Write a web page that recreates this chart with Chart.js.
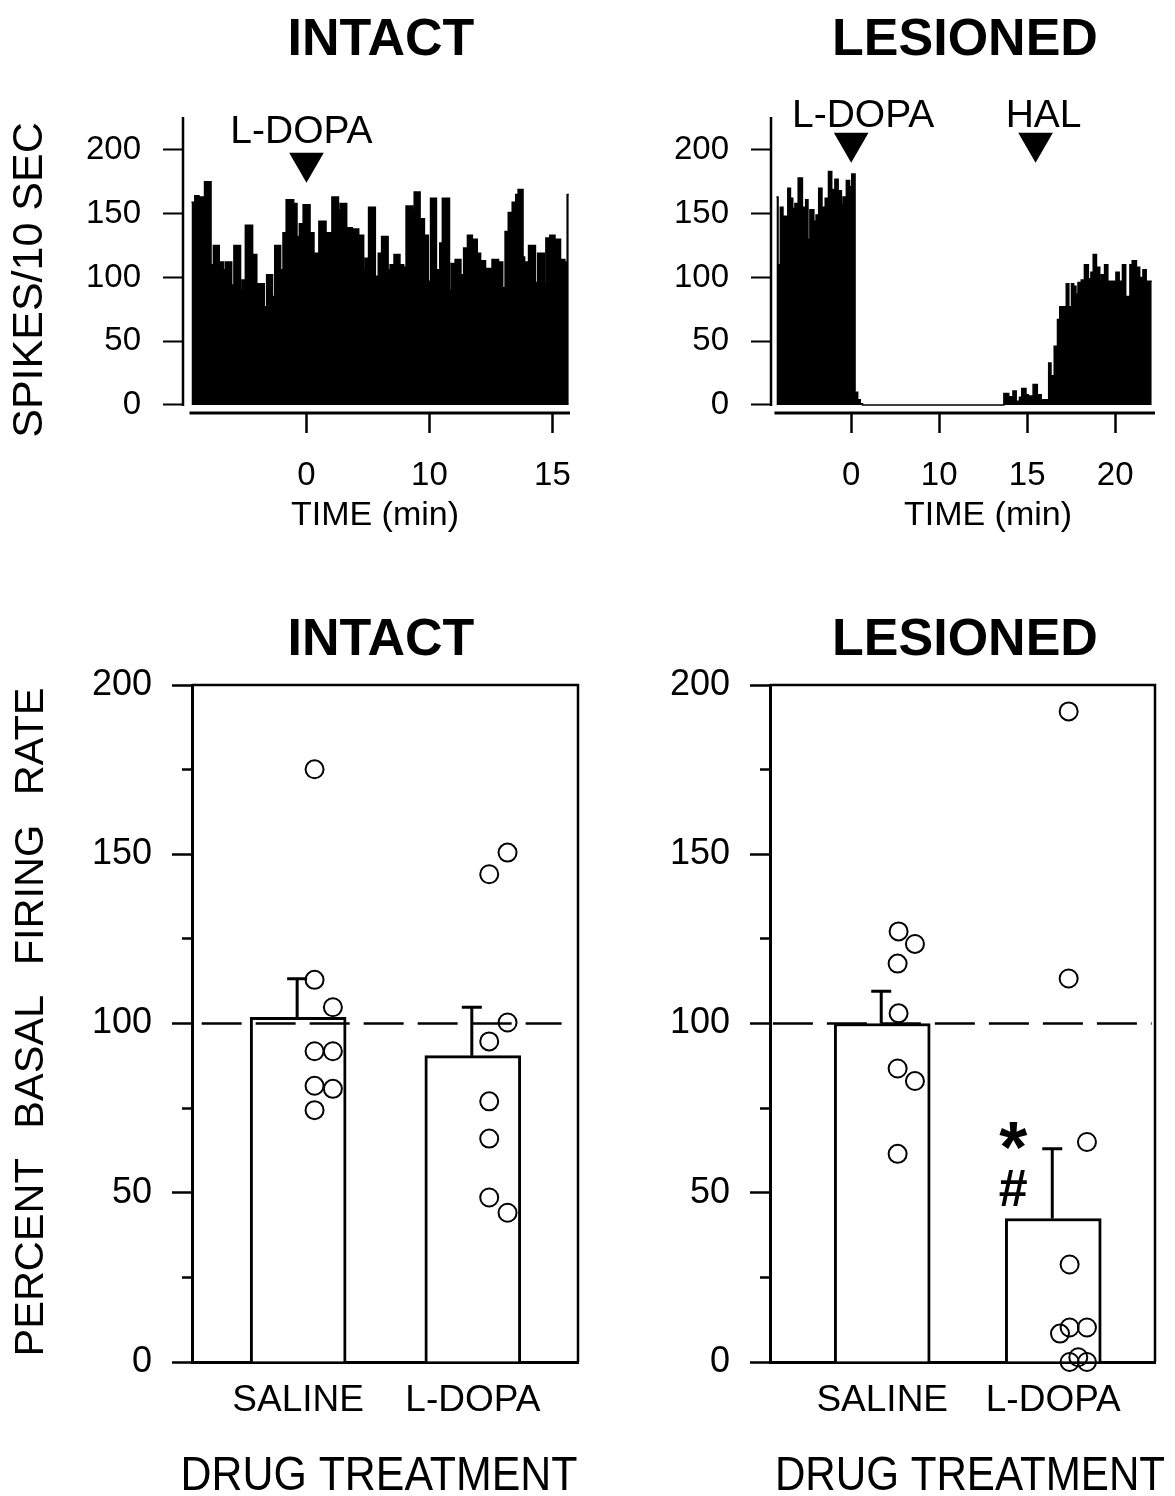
<!DOCTYPE html>
<html>
<head>
<meta charset="utf-8">
<script src="https://cdn.jsdelivr.net/npm/chart.js@4.4.0/dist/chart.umd.min.js"></script>
<style>
  html, body { margin: 0; padding: 0; background: #fff; }
  canvas { position: absolute; }
</style>
</head>
<body>
<canvas id="histIntact" width="590" height="560" style="left:0;top:0"></canvas>
<canvas id="histLesioned" width="585" height="560" style="left:590px;top:0"></canvas>
<canvas id="rateIntact" width="590" height="936" style="left:0;top:560px"></canvas>
<canvas id="rateLesioned" width="585" height="936" style="left:590px;top:560px"></canvas>
<script>
const FONT = '"Liberation Sans", Arial, Helvetica, sans-serif';

// --- top row: spike histograms (spikes / 10 s) ---
// x is the position on the broken time axis: 0 -> "0", 10 -> "10", 20 -> "15", 30 -> "20"
const intactBinStart = [-9.35,-9.08,-8.74,-8.63,-8.29,-7.76,-7.57,-7.09,-6.77,-6.61,-6.08,-5.90,-5.36,-5.23,-4.97,-4.38,-4.04,-3.43,-3.24,-2.76,-2.58,-2.10,-1.91,-1.65,-1.04,-0.77,-0.58,-0.27,0.29,0.61,1.01,1.59,2.07,2.60,2.74,3.27,3.72,4.25,4.65,4.78,5.05,5.60,5.84,6.11,6.64,6.80,7.12,7.60,7.91,8.10,8.63,8.76,9.24,9.59,9.91,10.09,10.57,10.84,11.05,11.63,11.77,12.09,12.56,12.78,13.09,13.49,13.89,14.16,14.56,14.69,15.09,15.62,15.96,16.15,16.41,16.73,17.02,17.21,17.61,17.74,18.06,18.62,18.80,19.34,19.47,19.79,20.21,20.66,21.01,21.20];
const intactBinEnd = 21.33;
const intactSpikes = [159,164,158,163,175,110,125,112,106,112,94,125,90,98,141,118,95,77,102,85,125,106,135,161,158,132,142,157,135,119,144,135,163,153,158,139,138,133,106,115,155,101,119,132,106,110,118,110,108,156,153,167,146,133,97,162,106,127,162,90,111,114,102,123,133,130,119,113,107,107,114,112,92,136,151,159,165,169,116,112,125,96,119,95,131,133,130,114,112,165];
const intactTickPos = [0, 10, 20];
const intactTickLabels = ['0', '10', '15'];
const intactEventPos = [0];
const intactEventNames = ['L-DOPA'];

const lesionedBinStart = [-8.49,-8.31,-8.05,-7.75,-7.20,-6.90,-6.64,-6.39,-6.02,-5.54,-5.17,-4.91,-4.69,-4.24,-3.99,-3.69,-3.32,-2.95,-2.58,-2.21,-1.85,-1.48,-1.11,-0.92,-0.55,-0.18,0.07,0.44,0.74,1.03,1.29,17.35,17.90,18.38,18.75,19.12,19.38,19.86,20.12,20.67,21.15,21.59,21.96,22.44,22.70,23.07,23.44,23.70,23.99,24.44,24.73,25.03,25.28,25.54,25.77,26.14,26.50,26.95,27.24,27.50,27.87,28.24,28.42,28.79,29.16,29.72,30.08,30.45,30.82,31.19,31.67,31.93,32.41,32.78,33.15,33.52];
const lesionedBinEnd = 34.15;
const lesionedSpikes = [163,110,155,148,170,162,154,158,178,155,161,130,153,144,149,170,155,162,183,169,177,168,157,163,176,171,181,10,4,1,0,9,6.5,11,3,6,13,8,7,16,8,4,4,33,23,46,67,77,77,95,77,95,93,87,96,98,110,99,104,118,108,97,102,110,97,97,104,97,110,85,110,113,108,100,106,97];
const lesionedTickPos = [0, 10, 20, 30];
const lesionedTickLabels = ['0', '10', '15', '20'];
const lesionedEventPos = [0, 20.95];
const lesionedEventNames = ['L-DOPA', 'HAL'];

const spikeTicks = [0, 25, 50, 75, 100, 125, 150, 175, 200, 225];

// --- bottom row: percent basal firing rate ---
const treatments = ['SALINE', 'L-DOPA'];
const basalLevel = 100;
const intactMean = [101.8, 90.5];
const intactSem = [11.4, 14.3];
const intactSalineCells = [175.1, 112.9, 104.8, 91.8, 91.8, 81.6, 80.7, 74.4];
const intactSalineJitter = [1.7, 1.7, 3.6, 1.7, 3.6, 1.7, 3.6, 1.7];
const intactLdopaCells = [150.5, 144.1, 100.3, 94.7, 77.0, 66.0, 48.6, 44.1];
const intactLdopaJitter = [3.6, 1.7, 3.6, 1.7, 1.7, 1.7, 1.7, 3.6];
const lesionedMean = [100.0, 42.4];
const lesionedSem = [9.5, 20.6];
const lesionedSalineCells = [127.2, 123.5, 117.7, 103.0, 86.7, 83.0, 61.5];
const lesionedSalineJitter = [1.7, 3.4, 1.6, 1.7, 1.6, 3.4, 1.6];
const lesionedLdopaCells = [192.2, 113.3, 65.0, 28.8, 8.4, 10.2, 10.2, 0, 1.4, 0];
const lesionedLdopaJitter = [1.6, 1.6, 3.5, 1.7, 0.7, 1.7, 3.5, 1.7, 2.6, 3.5];

function font(size, bold) {
  return (bold ? 'bold ' : '') + size + 'px ' + FONT;
}

// free text (titles, axis titles) in canvas pixels
function textLayer(items) {
  return {
    id: 'textLayer',
    afterDraw(chart) {
      const ctx = chart.ctx;
      items.forEach(t => {
        ctx.save();
        ctx.font = font(t.size, t.bold);
        ctx.fillStyle = '#000';
        ctx.textAlign = 'center';
        ctx.textBaseline = t.baseline || 'alphabetic';
        if (t.wordSpacing && 'wordSpacing' in ctx) ctx.wordSpacing = t.wordSpacing;
        ctx.translate(t.x, t.y);
        if (t.rotate) ctx.rotate(t.rotate * Math.PI / 180);
        ctx.scale(t.sx || 1, 1);
        ctx.fillText(t.text, 0, 0);
        ctx.restore();
      });
    }
  };
}

// axis lines of the histograms, drawn detached like the original
const histAxes = {
  id: 'histAxes',
  afterDraw(chart) {
    const {ctx, chartArea, scales: {x, y}} = chart;
    const first = chart.data.datasets[0].data[0].x;
    ctx.save();
    ctx.strokeStyle = '#000';
    ctx.lineWidth = 2.5;
    ctx.beginPath();
    ctx.moveTo(chartArea.left, y.getPixelForValue(0) + 1);
    ctx.lineTo(chartArea.left, y.getPixelForValue(225) - 1);
    ctx.stroke();
    ctx.lineWidth = 3;
    ctx.beginPath();
    ctx.moveTo(x.getPixelForValue(first) - 2, chartArea.bottom);
    ctx.lineTo(chartArea.right, chartArea.bottom);
    ctx.stroke();
    ctx.restore();
  }
};

function eventLabels(pos, names, dx, baseY) {
  return {
    id: 'eventLabels',
    afterDraw(chart) {
      const ctx = chart.ctx, x = chart.scales.x;
      ctx.save();
      ctx.font = font(39);
      ctx.fillStyle = '#000';
      ctx.textAlign = 'center';
      names.forEach((n, i) => ctx.fillText(n, x.getPixelForValue(pos[i]) + dx[i], baseY));
      ctx.restore();
    }
  };
}

function histChart(id, o) {
  const pts = o.start.map((x, i) => ({x: x, y: o.spikes[i]}));
  pts.push({x: o.end, y: o.spikes[o.spikes.length - 1]});
  return new Chart(document.getElementById(id), {
    type: 'line',
    data: {
      datasets: [{
        data: pts,
        stepped: true,
        fill: 'origin',
        backgroundColor: '#000',
        borderColor: '#000',
        borderWidth: 1.5,
        pointRadius: 0,
        order: 2
      }, {
        data: o.eventPos.map(x => ({x: x, y: o.arrowY})),
        showLine: false,
        pointStyle: 'triangle',
        rotation: 180,
        pointRadius: 20,
        pointBackgroundColor: '#000',
        pointBorderColor: '#000',
        pointBorderWidth: 0,
        clip: false,
        order: 1
      }]
    },
    options: {
      responsive: false,
      animation: false,
      devicePixelRatio: 1,
      layout: {padding: {top: o.top, right: o.padRight, left: 0, bottom: 0}},
      plugins: {legend: {display: false}, tooltip: {enabled: false}},
      scales: {
        x: {
          type: 'linear', min: o.xMin, max: o.xMax, offset: false,
          afterBuildTicks: s => { s.ticks = o.tickPos.map(v => ({value: v})); },
          afterFit: s => { s.height = o.xAxisH; s.paddingLeft = 0; s.paddingRight = 0; },
          ticks: {
            callback: v => o.tickLabels[o.tickPos.indexOf(v)],
            font: {family: FONT, size: 33}, color: '#000',
            padding: 23, maxRotation: 0, autoSkip: false
          },
          grid: {drawOnChartArea: false, tickLength: 20, tickWidth: 2.5, tickColor: '#000'},
          border: {display: false}
        },
        y: {
          type: 'linear', min: -6.3, max: 225,
          afterBuildTicks: s => { s.ticks = spikeTicks.map(v => ({value: v})); },
          afterFit: s => { s.width = o.left; s.paddingTop = 0; s.paddingBottom = 0; },
          ticks: {
            callback: v => (v % 50 === 0 ? String(v) : ''),
            font: {family: FONT, size: 33}, color: '#000', padding: 22
          },
          grid: {drawOnChartArea: false, tickLength: 20, tickWidth: 2, tickColor: '#000'},
          border: {display: false}
        }
      }
    },
    plugins: [histAxes, textLayer(o.texts), eventLabels(o.eventPos, o.eventNames, o.eventDx, o.labelY)]
  });
}

// box frame (top and right sides) of the bar panels
const frame = {
  id: 'frame',
  afterDraw(chart) {
    const {ctx, chartArea: a} = chart;
    ctx.save();
    ctx.strokeStyle = '#000';
    ctx.lineWidth = 2.5;
    ctx.beginPath();
    ctx.moveTo(a.left, a.top);
    ctx.lineTo(a.right, a.top);
    ctx.lineTo(a.right, a.bottom);
    ctx.stroke();
    ctx.restore();
  }
};

// one-sided (upward) SEM bars on the bar dataset
function errorBars(mean, sem) {
  return {
    id: 'errorBars',
    afterDatasetDraw(chart, args) {
      if (args.index !== 0) return;
      const ctx = chart.ctx, y = chart.scales.y;
      ctx.save();
      ctx.strokeStyle = '#000';
      ctx.lineWidth = 3;
      args.meta.data.forEach((bar, i) => {
        const top = y.getPixelForValue(mean[i] + sem[i]);
        ctx.beginPath();
        ctx.moveTo(bar.x - 1, bar.y);
        ctx.lineTo(bar.x - 1, top);
        ctx.moveTo(bar.x - 11, top);
        ctx.lineTo(bar.x + 9, top);
        ctx.stroke();
      });
      ctx.restore();
    }
  };
}

// significance marks next to a bar
function sigMarks(barIndex, marks) {
  return {
    id: 'sigMarks',
    afterDatasetsDraw(chart) {
      const ctx = chart.ctx, y = chart.scales.y;
      const bar = chart.getDatasetMeta(0).data[barIndex];
      ctx.save();
      ctx.fillStyle = '#000';
      ctx.textAlign = 'center';
      marks.forEach(m => {
        ctx.font = font(m.size, true);
        ctx.fillText(m.text, bar.x - 40, y.getPixelForValue(m.value));
      });
      ctx.restore();
    }
  };
}

function rateChart(id, o) {
  const dots = (cells, jit, k) => cells.map((v, i) => ({x: o.barPos[k] + jit[i], y: v}));
  const extra = o.marks ? [sigMarks(1, o.marks)] : [];
  return new Chart(document.getElementById(id), {
    type: 'bar',
    data: {
      datasets: [{
        type: 'bar',
        data: o.mean.map((v, i) => ({x: o.barPos[i], y: v})),
        backgroundColor: '#fff',
        borderColor: '#000',
        borderWidth: 3,
        barThickness: 96,
        order: 3
      }, {
        type: 'line',
        data: [{x: o.dashFrom, y: basalLevel}, {x: o.dashTo, y: basalLevel}],
        borderColor: '#000',
        borderWidth: 2.5,
        borderDash: [40, 14],
        pointRadius: 0,
        order: 2
      }, {
        type: 'line',
        data: dots(o.saline, o.salineJit, 0).concat(dots(o.ldopa, o.ldopaJit, 1)),
        showLine: false,
        pointStyle: 'circle',
        pointRadius: 9,
        pointBorderWidth: 2,
        pointBorderColor: '#000',
        pointBackgroundColor: 'rgba(0,0,0,0)',
        clip: false,
        order: 1
      }]
    },
    options: {
      responsive: false,
      animation: false,
      devicePixelRatio: 1,
      layout: {padding: {top: o.top, right: o.padRight, left: 0, bottom: 0}},
      plugins: {legend: {display: false}, tooltip: {enabled: false}},
      scales: {
        x: {
          type: 'linear', min: 0, max: 40, offset: false,
          afterBuildTicks: s => { s.ticks = o.barPos.map(v => ({value: v})); },
          afterFit: s => { s.height = o.xAxisH; s.paddingLeft = 0; s.paddingRight = 0; },
          ticks: {
            callback: (v, i) => treatments[i],
            font: {family: FONT, size: 37}, color: '#000',
            padding: 17, maxRotation: 0, autoSkip: false
          },
          grid: {display: true, offset: false, drawOnChartArea: false, drawTicks: false},
          border: {display: true, color: '#000', width: 3}
        },
        y: {
          type: 'linear', min: 0, max: 200,
          ticks: {
            stepSize: 25,
            callback: v => (v % 50 === 0 ? String(v) : ''),
            font: {family: FONT, size: 36}, color: '#000', padding: 20
          },
          afterFit: s => { s.width = o.left; s.paddingTop = 0; s.paddingBottom = 0; },
          grid: {
            drawOnChartArea: false, tickLength: 20, tickWidth: 2.5, tickColor: '#000',
            // minor ticks (every 25) only show the inner half
            tickBorderDash: c => (c.tick && c.tick.value % 50 ? [10, 10] : []),
            tickBorderDashOffset: c => (c.tick && c.tick.value % 50 ? 10 : 0)
          },
          border: {display: true, color: '#000', width: 3}
        }
      }
    },
    plugins: [frame, errorBars(o.mean, o.sem), textLayer(o.texts)].concat(extra)
  });
}

histChart('histIntact', {
  start: intactBinStart, end: intactBinEnd, spikes: intactSpikes,
  tickPos: intactTickPos, tickLabels: intactTickLabels,
  eventPos: intactEventPos, eventNames: intactEventNames, eventDx: [-5], labelY: 143, arrowY: 190,
  xMin: -10.04, xMax: 21.43, left: 183, top: 118, padRight: 12, xAxisH: 147,
  texts: [
    {text: 'INTACT', x: 381, y: 55, size: 52, bold: true},
    {text: 'SPIKES/10 SEC', x: 30, y: 280, size: 43, rotate: -90, baseline: 'middle'},
    {text: 'TIME (min)', x: 375, y: 525, size: 34}
  ]
});

histChart('histLesioned', {
  start: lesionedBinStart, end: lesionedBinEnd, spikes: lesionedSpikes,
  tickPos: lesionedTickPos, tickLabels: lesionedTickLabels,
  eventPos: lesionedEventPos, eventNames: lesionedEventNames, eventDx: [12, 8], labelY: 127, arrowY: 205.5,
  xMin: -9.11, xMax: 34.52, left: 181, top: 118, padRight: 10, xAxisH: 147,
  texts: [
    {text: 'LESIONED', x: 375, y: 55, size: 52, bold: true},
    {text: 'TIME (min)', x: 398, y: 525, size: 34}
  ]
});

rateChart('rateIntact', {
  mean: intactMean, sem: intactSem, barPos: [11.0, 29.1],
  saline: intactSalineCells, salineJit: intactSalineJitter,
  ldopa: intactLdopaCells, ldopaJit: intactLdopaJitter,
  dashFrom: 1.0, dashTo: 38.3,
  left: 192, top: 125, padRight: 12, xAxisH: 134,
  texts: [
    {text: 'INTACT', x: 381, y: 95, size: 52, bold: true},
    {text: 'PERCENT BASAL FIRING RATE', x: 32, y: 462, size: 41.5, rotate: -90, baseline: 'middle', wordSpacing: '18px'},
    {text: 'DRUG TREATMENT', x: 379, y: 930, size: 49, sx: 0.875}
  ]
});

rateChart('rateLesioned', {
  mean: lesionedMean, sem: lesionedSem, barPos: [11.66, 29.43],
  saline: lesionedSalineCells, salineJit: lesionedSalineJitter,
  ldopa: lesionedLdopaCells, ldopaJit: lesionedLdopaJitter,
  dashFrom: 0.3, dashTo: 39.65,
  left: 180, top: 125, padRight: 20, xAxisH: 134,
  marks: [{text: '*', size: 72, value: 56.2}, {text: '#', size: 52, value: 46.1}],
  texts: [
    {text: 'LESIONED', x: 375, y: 95, size: 52, bold: true},
    {text: 'DRUG TREATMENT', x: 380, y: 930, size: 49, sx: 0.86}
  ]
});
</script>
</body>
</html>
